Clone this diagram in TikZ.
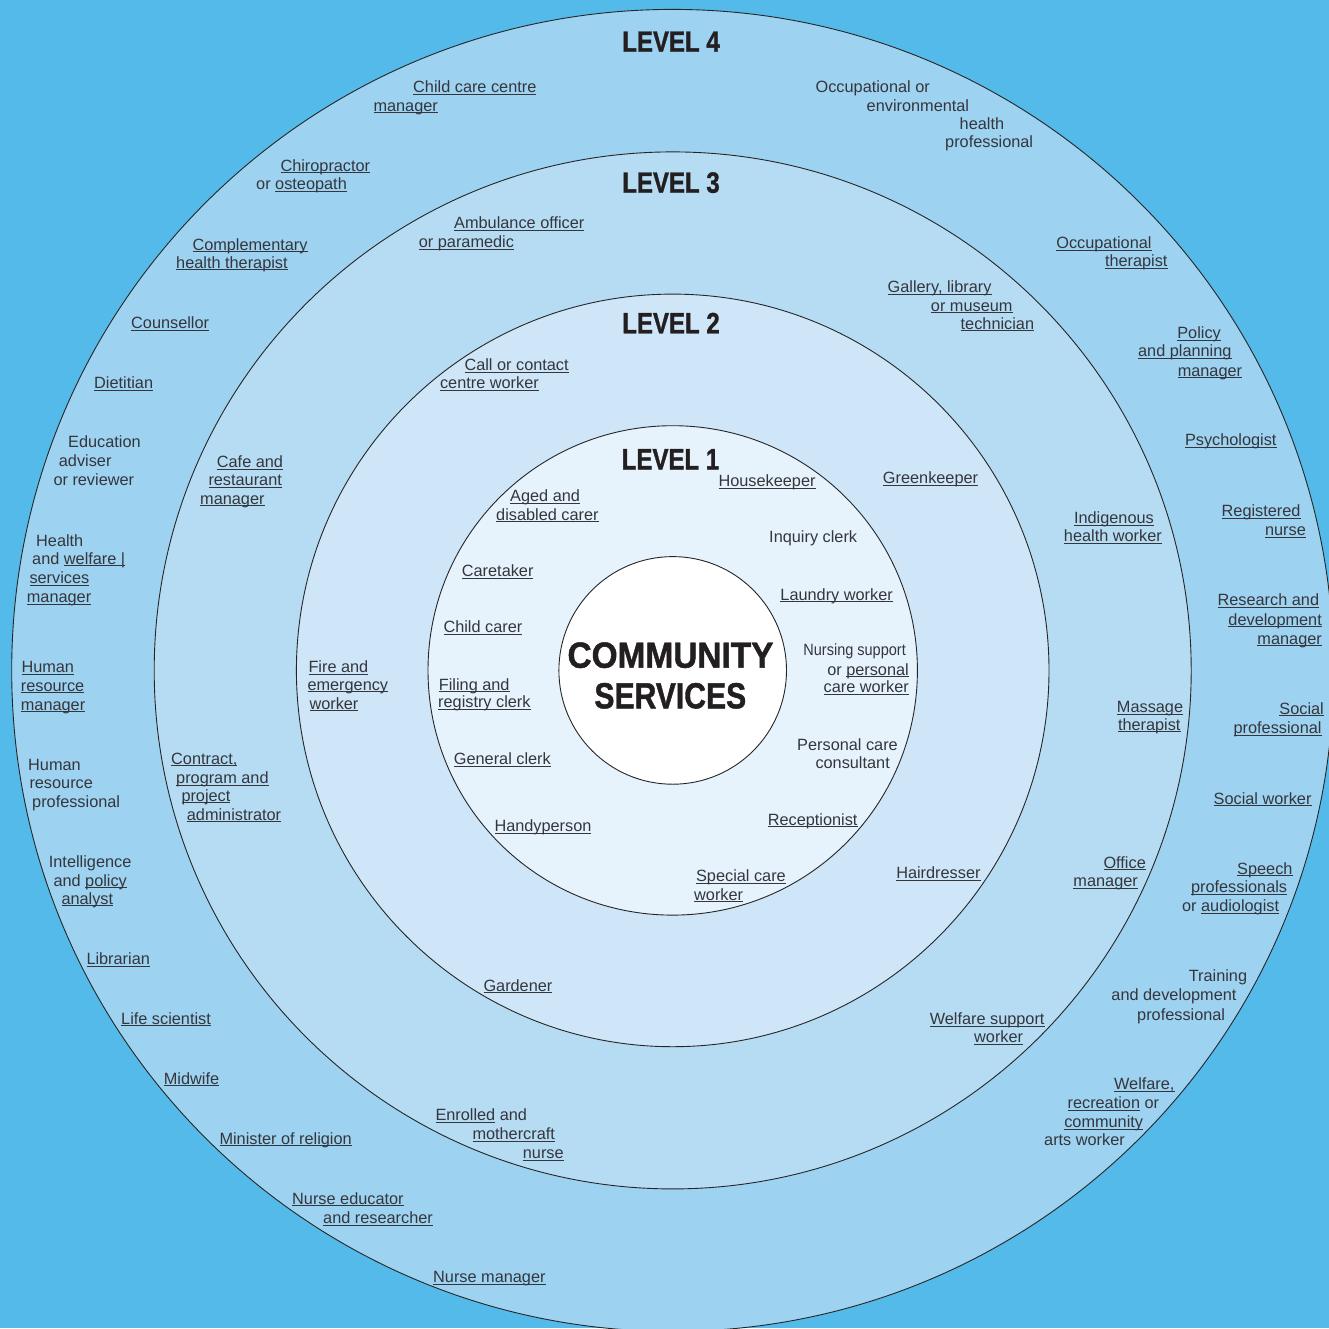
\documentclass[tikz,border=0pt]{standalone}
\usepackage{fontspec}
\setmainfont{Liberation Sans}
\newfontfamily\heavyfont{Liberation Sans Bold}[FakeBold=1.3]
\usepackage{graphicx}
\definecolor{bgblue}{RGB}{83,186,234}
\definecolor{ringfour}{RGB}{158,210,241}
\definecolor{ringthree}{RGB}{182,220,244}
\definecolor{ringtwo}{RGB}{206,230,248}
\definecolor{ringone}{RGB}{230,243,252}
\definecolor{txt}{RGB}{52,54,60}
\definecolor{head}{RGB}{35,31,32}
\newsavebox\ulbox
\newcommand\uln[1]{\sbox\ulbox{#1}\rlap{\rule[-2.4pt]{\wd\ulbox}{1.1pt}}\usebox\ulbox}
\tikzset{
  lbl/.style={font=\fontsize{16.3}{19}\selectfont, text=txt, inner sep=0pt, anchor=base west},
  lblr/.style={lbl, anchor=base east},
  ringnode/.style={circle, draw=black!85, line width=0.9pt, inner sep=0pt},
  titletext/.style={font=\fontsize{29.3}{30}\heavyfont, text=head, inner sep=0pt, anchor=base},
  coretext/.style={font=\fontsize{36.3}{38}\heavyfont, text=head, inner sep=0pt, anchor=base},
}
\newcommand\tl[4]{\node[lbl] (#1) at (#2,#3) {#4};}
\newcommand\tr[4]{\node[lblr] (#1) at (#2,#3) {#4};}
\begin{document}
\begin{tikzpicture}[x=1pt,y=-1pt]
\useasboundingbox (0,0) rectangle (1329,1328);
\fill[bgblue] (0,0) rectangle (1329,1328);
\coordinate (ctr) at (672.7,670.4);
\node[ringnode, fill=ringfour, minimum size=1322pt] (lvfour) at (ctr) {};
\node[ringnode, fill=ringthree, minimum size=1037pt] (lvthree) at (ctr) {};
\node[ringnode, fill=ringtwo, minimum size=752.6pt] (lvtwo) at (ctr) {};
\node[ringnode, fill=ringone, minimum size=489.4pt] (lvone) at (ctr) {};
\node[ringnode, fill=white, minimum size=227.6pt] (core) at (ctr) {};

% titles
\node[titletext] (tfour) at (671,51.7) {\scalebox{0.82}[1]{LEVEL 4}};
\node[titletext] (tthree) at (671,192.7) {\scalebox{0.82}[1]{LEVEL 3}};
\node[titletext] (ttwo) at (671,333.3) {\scalebox{0.82}[1]{LEVEL 2}};
\node[titletext] (tone) at (670.5,469.3) {\scalebox{0.82}[1]{LEVEL 1}};
\node[coretext] (csone) at (670.5,667.7) {\scalebox{0.92}[1]{COMMUNITY}};
\node[coretext] (cstwo) at (670.3,708.3) {\scalebox{0.83}[1]{SERVICES}};

% level 4, left
\tl{a1}{413}{92.5}{\uln{Child care centre}}
\tl{a2}{373.3}{111}{\uln{manager}}
\tl{a3}{280.3}{171}{\uln{Chiropractor}}
\tl{a4}{256}{189.3}{or \uln{osteopath}}
\tl{a5}{192.3}{250}{\uln{Complementary}}
\tl{a6}{176}{268}{\uln{health therapist}}
\tl{a7}{131}{328.3}{\uln{Counsellor}}
\tl{a8}{94}{388.3}{\uln{Dietitian}}
\tl{a9}{68}{447}{Education}
\tl{a10}{58.7}{466.7}{adviser}
\tl{a11}{53.3}{485.7}{or reviewer}
\tl{a12}{36}{546}{Health}
\tl{a13}{32}{564}{and \uln{welfare |}}
\tl{a14}{29.3}{583.3}{\uln{services}}
\tl{a15}{26.7}{602.3}{\uln{manager}}
\tl{a16}{21.3}{672.3}{\uln{Human}}
\tl{a17}{20.7}{691}{\uln{resource}}
\tl{a18}{20.7}{710}{\uln{manager}}
\tl{a19}{28}{770}{Human}
\tl{a20}{29.3}{788.3}{resource}
\tl{a21}{32}{807}{professional}
\tl{a22}{48.7}{867.3}{Intelligence}
\tl{a23}{53.3}{886}{and \uln{policy}}
\tl{a24}{61.3}{904}{\uln{analyst}}
\tl{a25}{86.3}{964.3}{\uln{Librarian}}
\tl{a26}{121}{1024}{\uln{Life scientist}}
\tl{a27}{163.7}{1084}{\uln{Midwife}}
\tl{a28}{219.3}{1144}{\uln{Minister of religion}}
\tl{a29}{292}{1204}{\uln{Nurse educator}}
\tl{a30}{323}{1223.3}{\uln{and researcher}}
\tl{a31}{433}{1282.7}{\uln{Nurse manager}}

% level 4, right
\tr{b1}{930}{92.3}{Occupational or}
\tr{b2}{969.3}{111}{environmental}
\tr{b3}{1004.3}{129}{health}
\tr{b4}{1033.3}{147.7}{professional}
\tr{b5}{1151.7}{248.7}{\uln{Occupational}}
\tr{b6}{1167.7}{266.7}{\uln{therapist}}
\tr{b7}{1221}{338.3}{\uln{Policy}}
\tr{b8}{1231.7}{356.7}{\uln{and planning}}
\tr{b9}{1242.3}{376}{\uln{manager}}
\tr{b10}{1276.7}{445.5}{\uln{Psychologist}}
\tr{b11}{1300.7}{516.7}{\uln{Registered}}
\tr{b12}{1306}{535.7}{\uln{nurse}}
\tr{b13}{1319.3}{605.7}{\uln{Research and}}
\tr{b14}{1322}{625}{\uln{development}}
\tr{b15}{1322}{644}{\uln{manager}}
\tr{b16}{1324}{714}{\uln{Social}}
\tr{b17}{1321.7}{733.3}{\uln{professional}}
\tr{b18}{1311.7}{804}{\uln{Social worker}}
\tr{b19}{1292.7}{874}{\uln{Speech}}
\tr{b20}{1287.3}{892.7}{\uln{professionals}}
\tr{b21}{1279.3}{911.7}{or \uln{audiologist}}
\tr{b22}{1247.3}{981.7}{Training}
\tr{b23}{1236.7}{1000.7}{and development}
\tr{b24}{1225.3}{1020}{professional}
\tr{b25}{1174.7}{1089.3}{\uln{Welfare,}}
\tr{b26}{1159.3}{1108.7}{\uln{recreation} or}
\tr{b27}{1143.3}{1127.7}{\uln{community}}
\tr{b28}{1125}{1145.7}{arts worker}

% level 3
\tl{c1}{454}{228.7}{\uln{Ambulance officer}}
\tl{c2}{418.7}{247.3}{\uln{or paramedic}}
\tl{c3}{216.7}{467.3}{\uln{Cafe and}}
\tl{c4}{208.3}{485.7}{\uln{restaurant}}
\tl{c5}{200}{504}{\uln{manager}}
\tl{c6}{171}{764}{\uln{Contract,}}
\tl{c7}{176}{783.3}{\uln{program and}}
\tl{c8}{181.3}{801}{\uln{project}}
\tl{c9}{186.7}{820}{\uln{administrator}}
\tl{c10}{435.3}{1120.7}{\uln{Enrolled} and}
\tl{c11}{472.3}{1139.3}{\uln{mothercraft}}
\tl{c12}{522.7}{1158.3}{\uln{nurse}}
\tr{c13}{991.7}{292.3}{\uln{Gallery, library}}
\tr{c14}{1012.7}{311}{\uln{or museum}}
\tr{c15}{1034.3}{329}{\uln{technician}}
\tr{c16}{1154}{523.3}{\uln{Indigenous}}
\tr{c17}{1162}{541.7}{\uln{health worker}}
\tr{c18}{1183.3}{712.3}{\uln{Massage}}
\tr{c19}{1180.7}{730}{\uln{therapist}}
\tr{c20}{1146}{868}{\uln{Office}}
\tr{c21}{1138}{886.5}{\uln{manager}}
\tr{c22}{1044.7}{1024.3}{\uln{Welfare support}}
\tr{c23}{1023.3}{1042.7}{\uln{worker}}

% level 2
\tl{d1}{464.3}{370.7}{\uln{Call or contact}}
\tr{d2}{539}{388.7}{\uln{centre worker}}
\tl{d3}{308.3}{672.3}{\uln{Fire and}}
\tl{d4}{307.3}{690}{\uln{emergency}}
\tl{d5}{309.3}{709}{\uln{worker}}
\tl{d6}{483.3}{991}{\uln{Gardener}}
\tr{d7}{978.3}{483.3}{\uln{Greenkeeper}}
\tr{d8}{980.7}{878.7}{\uln{Hairdresser}}

% level 1
\tr{e1}{815.7}{486.7}{\uln{Housekeeper}}
\tl{e2}{510}{501.7}{\uln{Aged and}}
\tl{e3}{496}{520}{\uln{disabled carer}}
\tr{e4}{857.3}{542.3}{Inquiry clerk}
\tl{e5}{461.7}{576.7}{\uln{Caretaker}}
\tr{e6}{893}{600}{\uln{Laundry worker}}
\tl{e7}{443.3}{632.7}{\uln{Child carer}}
\tr{e8}{906}{655.7}{\scalebox{0.89}[1]{Nursing support}}
\tr{e9}{909}{675}{or \uln{personal}}
\tr{e10}{909}{692.7}{\uln{care worker}}
\tl{e11}{438.7}{690}{\uln{Filing and}}
\tl{e12}{438}{707.7}{\uln{registry clerk}}
\tl{e13}{453.7}{764.3}{\uln{General clerk}}
\tr{e14}{898}{750}{Personal care}
\tr{e15}{890}{768.3}{consultant}
\tl{e16}{494.3}{831.7}{\uln{Handyperson}}
\tr{e17}{857.7}{825}{\uln{Receptionist}}
\tr{e18}{786}{881.7}{\uln{Special care}}
\tl{e19}{694}{900}{\uln{worker}}
\end{tikzpicture}
\end{document}
